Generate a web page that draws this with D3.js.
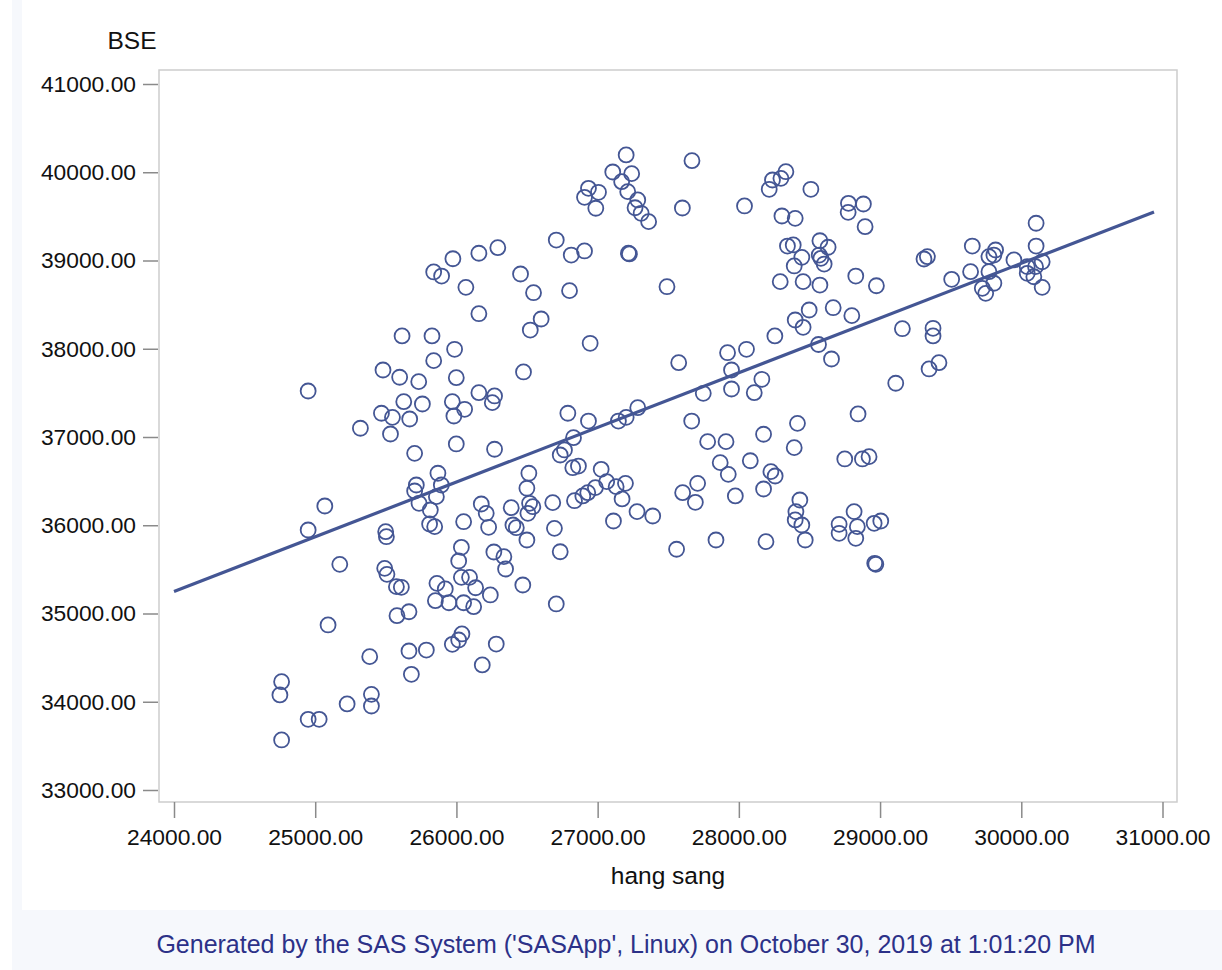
<!DOCTYPE html>
<html>
<head>
<meta charset="utf-8">
<script src="https://cdn.jsdelivr.net/npm/d3@7"></script>
<style>
  body { margin: 0; background: #fff; }
  svg { display: block; font-family: "Liberation Sans", Arial, sans-serif; }
</style>
</head>
<body>
<svg id="chart" width="1222" height="970"></svg>
<script>
// === Data ===
const hangSang = [
  25615, 25827, 25839, 25895, 25975, 26159, 26293, 26067, 26159, 26454,
  27202, 27668, 27107, 27241, 27170, 26935, 27006, 26907, 27213, 27284,
  27265, 27308, 27361, 26987, 27600, 28040, 28238, 28215, 28298, 28305,
  26707, 26813, 26907, 27218, 27225, 26546, 26801, 26600, 26523, 26947,
  27491, 28293, 28255, 28333, 28510, 28776, 28882, 28774, 28894, 28399,
  30105, 29653, 30105, 29818, 29771, 29806, 29948, 30148, 30042, 30101,
  30042, 30089, 30148, 29641, 29771, 29806, 29724, 29748, 29507, 29311,
  29335, 28344, 28385, 28392, 28446, 28574, 28632, 28569, 28581, 28604,
  28455, 28574, 28828, 28974, 28498, 28399, 28455, 28668, 28800, 29158,
  29375, 29375, 25987, 25839, 25480, 25598, 25733, 25999, 26475, 24950,
  25627, 25759, 25971, 26058, 25982, 26159, 26270, 26254, 25469, 25547,
  25669, 25320, 25533, 25999, 25704, 26270, 25869, 25716, 25893, 25704,
  25735, 25858, 25815, 25810, 25846, 25499, 25504, 25068, 24950, 26051,
  26176, 26211, 26228, 26388, 26400, 26424, 27574, 27920, 28054, 27948,
  28163, 27948, 28109, 27748, 26789, 26935, 27147, 27202, 27284, 27666,
  26829, 26735, 26765, 26824, 26864, 27025, 26513, 26499, 26518, 26541,
  26506, 26682, 26836, 26895, 26930, 26984, 27064, 27131, 27197, 27173,
  27279, 27390, 27112, 26694, 26499, 27779, 27909, 28175, 27868, 28081,
  27925, 28227, 28257, 28175, 27975, 27602, 27708, 27692, 27838, 28192,
  28564, 28656, 29347, 29417, 29111, 28844, 28415, 28392, 28750, 28875,
  28922, 28432, 28404, 28399, 28446, 28470, 28710, 28710, 28816, 28839,
  28828, 28958, 29005, 26035, 26016, 25174, 25492, 25508, 26265, 26336,
  26348, 26470, 25862, 25921, 26035, 26093, 26136, 25575, 25610, 25851,
  25947, 26051, 26122, 26240, 25579, 25664, 25091, 25386, 25664, 25787,
  25971, 26016, 26039, 26282, 26183, 25681, 24762, 24750, 25398, 25398,
  25226, 24950, 25028, 24762, 26735, 26707, 27559, 28962, 28970
];

const bse = [
  38145, 38145, 38870, 38824, 39020, 39082, 39145, 38696, 38397, 38847,
  40196, 40131, 40003, 39984, 39893, 39818, 39773, 39716, 39780, 39686,
  39598, 39535, 39440, 39592, 39595, 39618, 39912, 39807, 39931, 39504,
  39232, 39062, 39108, 39082, 39074, 38635, 38658, 38337, 38212, 38062,
  38703, 38760, 38145, 40006, 39807, 39648, 39640, 39546, 39383, 39478,
  39422, 39164, 39164, 39119, 39043, 39062, 39006, 38986, 38930, 38930,
  38855, 38816, 38696, 38873, 38873, 38742, 38685, 38628, 38787, 39017,
  39043, 39164, 39176, 38938, 39036, 39224, 39150, 39062, 39025, 38960,
  38760, 38722, 38824, 38714, 38439, 38326, 38243, 38465, 38375, 38227,
  38232, 38145, 37994, 37865, 37759, 37677, 37627, 37672, 37737, 37521,
  37400, 37374, 37400, 37314, 37238, 37502, 37465, 37389, 37269, 37223,
  37204, 37099, 37034, 36921, 36815, 36861, 36589, 36456, 36456, 36388,
  36249, 36324, 36173, 36014, 35984, 35927, 35870, 36218, 35946, 36040,
  36241, 36135, 35977, 36199, 36003, 35972, 37842, 37955, 37994, 37759,
  37654, 37544, 37502, 37495, 37269, 37181, 37181, 37223, 37332, 37181,
  36992, 36796, 36853, 36652, 36671, 36634, 36589, 36419, 36249, 36210,
  36135, 36256, 36278, 36332, 36369, 36426, 36494, 36437, 36475, 36298,
  36154, 36105, 36048, 35965, 35833, 36947, 36947, 37031, 36709, 36731,
  36577, 36607, 36558, 36411, 36332, 36369, 36475, 36260, 35833, 35814,
  38048, 37884, 37771, 37842, 37609, 37261, 37155, 36879, 36751, 36751,
  36777, 36286, 36154, 36060, 36003, 35833, 36011, 35909, 36154, 35984,
  35852, 36022, 36048, 35750, 35595, 35557, 35512, 35444, 35697, 35644,
  35504, 35323, 35342, 35278, 35410, 35410, 35292, 35304, 35297, 35145,
  35122, 35122, 35077, 35210, 34975, 35020, 34870, 34511, 34575, 34586,
  34651, 34700, 34768, 34654, 34417, 34311, 34227, 34077, 34084, 33952,
  33975, 33801, 33801, 33567, 35700, 35108, 35728, 35569, 35558
];

// fitted line end points (hang sang, BSE)
const fitX = [24000, 30940];
const fitY = [35250, 39550];

const xTicks = [24000, 25000, 26000, 27000, 28000, 29000, 30000, 31000];
const yTicks = [33000, 34000, 35000, 36000, 37000, 38000, 39000, 40000, 41000];

const xLabel = "hang sang";
const yLabel = "BSE";
const footnote = "Generated by the SAS System ('SASApp', Linux) on October 30, 2019 at 1:01:20 PM";

// === Layout ===
const svg = d3.select("#chart");
const frame = { left: 159, top: 70, right: 1177, bottom: 802 };
const markColor = "#445694";

const x = d3.scaleLinear().domain([24000, 31000]).range([174, 1162.5]);
const y = d3.scaleLinear().domain([33000, 41000]).range([790, 84]);

// page background pieces
svg.append("rect")
  .attr("x", 12).attr("y", 0).attr("width", 10).attr("height", 910)
  .attr("fill", "#f6f8fc");
svg.append("rect")
  .attr("x", 12).attr("y", 910).attr("width", 1210).attr("height", 60)
  .attr("fill", "#f6f8fc");

// plot frame
svg.append("rect")
  .attr("x", frame.left).attr("y", frame.top)
  .attr("width", frame.right - frame.left)
  .attr("height", frame.bottom - frame.top)
  .attr("fill", "#fff")
  .attr("stroke", "#cdcdcd")
  .attr("stroke-width", 1.5);

// === Axes ===
const fmt = d3.format(".2f");

const yAxis = svg.append("g")
  .attr("transform", `translate(${frame.left - 1},0)`)
  .call(d3.axisLeft(y).tickValues(yTicks).tickFormat(fmt).tickSize(15).tickPadding(7));

const xAxis = svg.append("g")
  .attr("transform", `translate(0,${frame.bottom})`)
  .call(d3.axisBottom(x).tickValues(xTicks).tickFormat(fmt).tickSize(16).tickPadding(11));

[xAxis, yAxis].forEach(g => {
  g.select(".domain").remove();
  g.selectAll(".tick line").attr("stroke", "#8a8a8a").attr("stroke-width", 1.5);
  g.selectAll(".tick text")
    .attr("fill", "#111")
    .style("font-size", "22.8px")
    .style("font-family", "'Liberation Sans', Arial, sans-serif");
});

// axis titles
svg.append("text")
  .attr("x", 132).attr("y", 49)
  .attr("text-anchor", "middle")
  .attr("fill", "#111")
  .style("font-size", "24.5px")
  .text(yLabel);

svg.append("text")
  .attr("x", (frame.left + frame.right) / 2).attr("y", 884)
  .attr("text-anchor", "middle")
  .attr("fill", "#111")
  .style("font-size", "24.5px")
  .text(xLabel);

// === Marks ===
const points = hangSang.map((v, i) => ({ hs: v, bse: bse[i] }));

svg.append("g")
  .selectAll("circle")
  .data(points)
  .enter().append("circle")
  .attr("cx", d => x(d.hs))
  .attr("cy", d => y(d.bse))
  .attr("r", 7.5)
  .attr("fill", "none")
  .attr("stroke", markColor)
  .attr("stroke-width", 1.8);

const line = d3.line()
  .x(d => x(d[0]))
  .y(d => y(d[1]));

svg.append("path")
  .datum(fitX.map((v, i) => [v, fitY[i]]))
  .attr("d", line)
  .attr("fill", "none")
  .attr("stroke", markColor)
  .attr("stroke-width", 3.2);

// === Footnote ===
svg.append("text")
  .attr("x", 626).attr("y", 953)
  .attr("text-anchor", "middle")
  .attr("fill", "#2c3188")
  .style("font-size", "25px")
  .text(footnote);
</script>
</body>
</html>
